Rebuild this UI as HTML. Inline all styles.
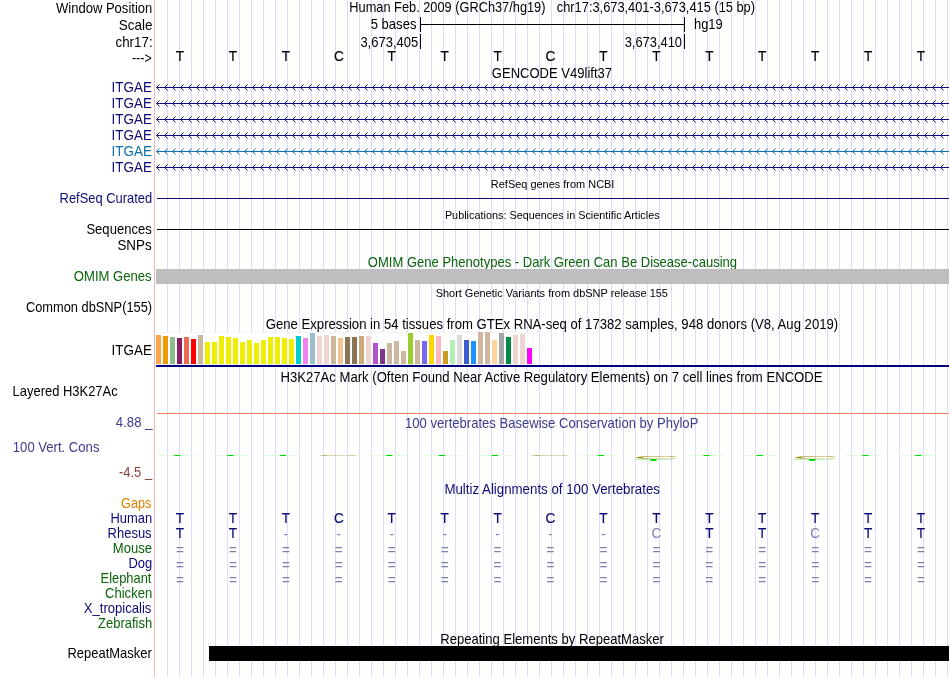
<!DOCTYPE html>
<html lang="en"><head><meta charset="utf-8"><title>UCSC Genome Browser - hg19 chr17:3,673,401-3,673,415</title>
<style>html,body{margin:0;padding:0;background:#fff}svg{display:block}</style></head>
<body>
<svg id="hgTracks" width="950" height="677" viewBox="0 0 950 677" font-family='"Liberation Sans", sans-serif'>
<title>UCSC Genome Browser on Human Feb. 2009 (GRCh37/hg19) chr17:3,673,401-3,673,415</title>
<rect x="0" y="0" width="950" height="677" fill="#fff"/>
<g id="guidelines" shape-rendering="crispEdges">
<rect x="167" y="0" width="1" height="677" fill="#dcdcff"/>
<rect x="179" y="0" width="1" height="677" fill="#dcdcff"/>
<rect x="191" y="0" width="1" height="677" fill="#dcdcff"/>
<rect x="203" y="0" width="1" height="677" fill="#dcdcff"/>
<rect x="215" y="0" width="1" height="677" fill="#dcdcff"/>
<rect x="227" y="0" width="1" height="677" fill="#dcdcff"/>
<rect x="239" y="0" width="1" height="677" fill="#dcdcff"/>
<rect x="251" y="0" width="1" height="677" fill="#dcdcff"/>
<rect x="263" y="0" width="1" height="677" fill="#dcdcff"/>
<rect x="275" y="0" width="1" height="677" fill="#dcdcff"/>
<rect x="287" y="0" width="1" height="677" fill="#dcdcff"/>
<rect x="299" y="0" width="1" height="677" fill="#dcdcff"/>
<rect x="311" y="0" width="1" height="677" fill="#dcdcff"/>
<rect x="323" y="0" width="1" height="677" fill="#dcdcff"/>
<rect x="335" y="0" width="1" height="677" fill="#dcdcff"/>
<rect x="347" y="0" width="1" height="677" fill="#dcdcff"/>
<rect x="359" y="0" width="1" height="677" fill="#dcdcff"/>
<rect x="371" y="0" width="1" height="677" fill="#dcdcff"/>
<rect x="383" y="0" width="1" height="677" fill="#dcdcff"/>
<rect x="395" y="0" width="1" height="677" fill="#dcdcff"/>
<rect x="407" y="0" width="1" height="677" fill="#dcdcff"/>
<rect x="419" y="0" width="1" height="677" fill="#dcdcff"/>
<rect x="431" y="0" width="1" height="677" fill="#dcdcff"/>
<rect x="443" y="0" width="1" height="677" fill="#dcdcff"/>
<rect x="455" y="0" width="1" height="677" fill="#dcdcff"/>
<rect x="467" y="0" width="1" height="677" fill="#dcdcff"/>
<rect x="479" y="0" width="1" height="677" fill="#dcdcff"/>
<rect x="491" y="0" width="1" height="677" fill="#dcdcff"/>
<rect x="503" y="0" width="1" height="677" fill="#dcdcff"/>
<rect x="515" y="0" width="1" height="677" fill="#dcdcff"/>
<rect x="527" y="0" width="1" height="677" fill="#dcdcff"/>
<rect x="539" y="0" width="1" height="677" fill="#dcdcff"/>
<rect x="551" y="0" width="1" height="677" fill="#dcdcff"/>
<rect x="563" y="0" width="1" height="677" fill="#dcdcff"/>
<rect x="575" y="0" width="1" height="677" fill="#dcdcff"/>
<rect x="587" y="0" width="1" height="677" fill="#dcdcff"/>
<rect x="599" y="0" width="1" height="677" fill="#dcdcff"/>
<rect x="611" y="0" width="1" height="677" fill="#dcdcff"/>
<rect x="623" y="0" width="1" height="677" fill="#dcdcff"/>
<rect x="635" y="0" width="1" height="677" fill="#dcdcff"/>
<rect x="647" y="0" width="1" height="677" fill="#dcdcff"/>
<rect x="659" y="0" width="1" height="677" fill="#dcdcff"/>
<rect x="671" y="0" width="1" height="677" fill="#dcdcff"/>
<rect x="683" y="0" width="1" height="677" fill="#dcdcff"/>
<rect x="695" y="0" width="1" height="677" fill="#dcdcff"/>
<rect x="707" y="0" width="1" height="677" fill="#dcdcff"/>
<rect x="719" y="0" width="1" height="677" fill="#dcdcff"/>
<rect x="731" y="0" width="1" height="677" fill="#dcdcff"/>
<rect x="743" y="0" width="1" height="677" fill="#dcdcff"/>
<rect x="755" y="0" width="1" height="677" fill="#dcdcff"/>
<rect x="767" y="0" width="1" height="677" fill="#dcdcff"/>
<rect x="779" y="0" width="1" height="677" fill="#dcdcff"/>
<rect x="791" y="0" width="1" height="677" fill="#dcdcff"/>
<rect x="803" y="0" width="1" height="677" fill="#dcdcff"/>
<rect x="815" y="0" width="1" height="677" fill="#dcdcff"/>
<rect x="827" y="0" width="1" height="677" fill="#dcdcff"/>
<rect x="839" y="0" width="1" height="677" fill="#dcdcff"/>
<rect x="851" y="0" width="1" height="677" fill="#dcdcff"/>
<rect x="863" y="0" width="1" height="677" fill="#dcdcff"/>
<rect x="875" y="0" width="1" height="677" fill="#dcdcff"/>
<rect x="887" y="0" width="1" height="677" fill="#dcdcff"/>
<rect x="899" y="0" width="1" height="677" fill="#dcdcff"/>
<rect x="911" y="0" width="1" height="677" fill="#dcdcff"/>
<rect x="923" y="0" width="1" height="677" fill="#dcdcff"/>
<rect x="935" y="0" width="1" height="677" fill="#dcdcff"/>
<rect x="947" y="0" width="1" height="677" fill="#dcdcff"/>
<rect x="154" y="0" width="1" height="677" fill="#ffb4b4"/>
</g>
<g id="track-ruler">
<g shape-rendering="crispEdges">
<rect x="420" y="24" width="265" height="1" fill="#000"/>
<rect x="420" y="17" width="1" height="15" fill="#000"/>
<rect x="684" y="17" width="1" height="15" fill="#000"/>
<rect x="420" y="34" width="1" height="15" fill="#000"/>
<rect x="684" y="34" width="1" height="15" fill="#000"/>
</g>
<text x="56.00" y="12.5" font-size="14.2" fill="#000" textLength="96.28" lengthAdjust="spacingAndGlyphs">Window Position</text>
<text x="118.75" y="29.8" font-size="14.2" fill="#000" textLength="33.71" lengthAdjust="spacingAndGlyphs">Scale</text>
<text x="115.46" y="47.2" font-size="14.2" fill="#000" textLength="37.15" lengthAdjust="spacingAndGlyphs">chr17:</text>
<text x="131.90" y="62.7" font-size="14.2" fill="#000" textLength="19.86" lengthAdjust="spacingAndGlyphs">---&gt;</text>
<text x="349.36" y="12.2" font-size="14.2" fill="#000" textLength="196.13" lengthAdjust="spacingAndGlyphs">Human Feb. 2009 (GRCh37/hg19)</text>
<text x="556.81" y="12.2" font-size="14.2" fill="#000" textLength="198.24" lengthAdjust="spacingAndGlyphs">chr17:3,673,401-3,673,415 (15 bp)</text>
<text x="370.74" y="29" font-size="14.2" fill="#000" textLength="45.69" lengthAdjust="spacingAndGlyphs">5 bases</text>
<text x="693.98" y="29" font-size="14.2" fill="#000" textLength="28.77" lengthAdjust="spacingAndGlyphs">hg19</text>
<text x="360.39" y="46.6" font-size="14.2" fill="#000" textLength="57.80" lengthAdjust="spacingAndGlyphs">3,673,405</text>
<text x="624.67" y="46.6" font-size="14.2" fill="#000" textLength="57.37" lengthAdjust="spacingAndGlyphs">3,673,410</text>
<text transform="translate(180.0,61) scale(0.96,1)" font-size="14.2" fill="#000" stroke="#000" stroke-width="0.18" text-anchor="middle">T</text>
<text transform="translate(232.93,61) scale(0.96,1)" font-size="14.2" fill="#000" stroke="#000" stroke-width="0.18" text-anchor="middle">T</text>
<text transform="translate(285.86,61) scale(0.96,1)" font-size="14.2" fill="#000" stroke="#000" stroke-width="0.18" text-anchor="middle">T</text>
<text transform="translate(338.79,61) scale(0.96,1)" font-size="14.2" fill="#000" stroke="#000" stroke-width="0.18" text-anchor="middle">C</text>
<text transform="translate(391.72,61) scale(0.96,1)" font-size="14.2" fill="#000" stroke="#000" stroke-width="0.18" text-anchor="middle">T</text>
<text transform="translate(444.65,61) scale(0.96,1)" font-size="14.2" fill="#000" stroke="#000" stroke-width="0.18" text-anchor="middle">T</text>
<text transform="translate(497.58,61) scale(0.96,1)" font-size="14.2" fill="#000" stroke="#000" stroke-width="0.18" text-anchor="middle">T</text>
<text transform="translate(550.51,61) scale(0.96,1)" font-size="14.2" fill="#000" stroke="#000" stroke-width="0.18" text-anchor="middle">C</text>
<text transform="translate(603.44,61) scale(0.96,1)" font-size="14.2" fill="#000" stroke="#000" stroke-width="0.18" text-anchor="middle">T</text>
<text transform="translate(656.37,61) scale(0.96,1)" font-size="14.2" fill="#000" stroke="#000" stroke-width="0.18" text-anchor="middle">T</text>
<text transform="translate(709.3,61) scale(0.96,1)" font-size="14.2" fill="#000" stroke="#000" stroke-width="0.18" text-anchor="middle">T</text>
<text transform="translate(762.23,61) scale(0.96,1)" font-size="14.2" fill="#000" stroke="#000" stroke-width="0.18" text-anchor="middle">T</text>
<text transform="translate(815.16,61) scale(0.96,1)" font-size="14.2" fill="#000" stroke="#000" stroke-width="0.18" text-anchor="middle">T</text>
<text transform="translate(868.09,61) scale(0.96,1)" font-size="14.2" fill="#000" stroke="#000" stroke-width="0.18" text-anchor="middle">T</text>
<text transform="translate(921.02,61) scale(0.96,1)" font-size="14.2" fill="#000" stroke="#000" stroke-width="0.18" text-anchor="middle">T</text>
</g>
<g id="track-gencode">
<text x="491.87" y="78" font-size="14.2" fill="#000" textLength="120.16" lengthAdjust="spacingAndGlyphs">GENCODE V49lift37</text>
<g class="transcript">
<text x="111.60" y="91.6" font-size="14.2" fill="#0c0c78" textLength="40.25" lengthAdjust="spacingAndGlyphs">ITGAE</text>
<rect x="157" y="87" width="792" height="1" fill="#0c0c78" shape-rendering="crispEdges"/>
<path d="M159.5 84.5L156.5 87.5L159.5 90.5M167.5 84.5L164.5 87.5L167.5 90.5M175.5 84.5L172.5 87.5L175.5 90.5M183.5 84.5L180.5 87.5L183.5 90.5M191.5 84.5L188.5 87.5L191.5 90.5M199.5 84.5L196.5 87.5L199.5 90.5M207.5 84.5L204.5 87.5L207.5 90.5M215.5 84.5L212.5 87.5L215.5 90.5M223.5 84.5L220.5 87.5L223.5 90.5M231.5 84.5L228.5 87.5L231.5 90.5M239.5 84.5L236.5 87.5L239.5 90.5M247.5 84.5L244.5 87.5L247.5 90.5M255.5 84.5L252.5 87.5L255.5 90.5M263.5 84.5L260.5 87.5L263.5 90.5M271.5 84.5L268.5 87.5L271.5 90.5M279.5 84.5L276.5 87.5L279.5 90.5M287.5 84.5L284.5 87.5L287.5 90.5M295.5 84.5L292.5 87.5L295.5 90.5M303.5 84.5L300.5 87.5L303.5 90.5M311.5 84.5L308.5 87.5L311.5 90.5M319.5 84.5L316.5 87.5L319.5 90.5M327.5 84.5L324.5 87.5L327.5 90.5M335.5 84.5L332.5 87.5L335.5 90.5M343.5 84.5L340.5 87.5L343.5 90.5M351.5 84.5L348.5 87.5L351.5 90.5M359.5 84.5L356.5 87.5L359.5 90.5M367.5 84.5L364.5 87.5L367.5 90.5M375.5 84.5L372.5 87.5L375.5 90.5M383.5 84.5L380.5 87.5L383.5 90.5M391.5 84.5L388.5 87.5L391.5 90.5M399.5 84.5L396.5 87.5L399.5 90.5M407.5 84.5L404.5 87.5L407.5 90.5M415.5 84.5L412.5 87.5L415.5 90.5M423.5 84.5L420.5 87.5L423.5 90.5M431.5 84.5L428.5 87.5L431.5 90.5M439.5 84.5L436.5 87.5L439.5 90.5M447.5 84.5L444.5 87.5L447.5 90.5M455.5 84.5L452.5 87.5L455.5 90.5M463.5 84.5L460.5 87.5L463.5 90.5M471.5 84.5L468.5 87.5L471.5 90.5M479.5 84.5L476.5 87.5L479.5 90.5M487.5 84.5L484.5 87.5L487.5 90.5M495.5 84.5L492.5 87.5L495.5 90.5M503.5 84.5L500.5 87.5L503.5 90.5M511.5 84.5L508.5 87.5L511.5 90.5M519.5 84.5L516.5 87.5L519.5 90.5M527.5 84.5L524.5 87.5L527.5 90.5M535.5 84.5L532.5 87.5L535.5 90.5M543.5 84.5L540.5 87.5L543.5 90.5M551.5 84.5L548.5 87.5L551.5 90.5M559.5 84.5L556.5 87.5L559.5 90.5M567.5 84.5L564.5 87.5L567.5 90.5M575.5 84.5L572.5 87.5L575.5 90.5M583.5 84.5L580.5 87.5L583.5 90.5M591.5 84.5L588.5 87.5L591.5 90.5M599.5 84.5L596.5 87.5L599.5 90.5M607.5 84.5L604.5 87.5L607.5 90.5M615.5 84.5L612.5 87.5L615.5 90.5M623.5 84.5L620.5 87.5L623.5 90.5M631.5 84.5L628.5 87.5L631.5 90.5M639.5 84.5L636.5 87.5L639.5 90.5M647.5 84.5L644.5 87.5L647.5 90.5M655.5 84.5L652.5 87.5L655.5 90.5M663.5 84.5L660.5 87.5L663.5 90.5M671.5 84.5L668.5 87.5L671.5 90.5M679.5 84.5L676.5 87.5L679.5 90.5M687.5 84.5L684.5 87.5L687.5 90.5M695.5 84.5L692.5 87.5L695.5 90.5M703.5 84.5L700.5 87.5L703.5 90.5M711.5 84.5L708.5 87.5L711.5 90.5M719.5 84.5L716.5 87.5L719.5 90.5M727.5 84.5L724.5 87.5L727.5 90.5M735.5 84.5L732.5 87.5L735.5 90.5M743.5 84.5L740.5 87.5L743.5 90.5M751.5 84.5L748.5 87.5L751.5 90.5M759.5 84.5L756.5 87.5L759.5 90.5M767.5 84.5L764.5 87.5L767.5 90.5M775.5 84.5L772.5 87.5L775.5 90.5M783.5 84.5L780.5 87.5L783.5 90.5M791.5 84.5L788.5 87.5L791.5 90.5M799.5 84.5L796.5 87.5L799.5 90.5M807.5 84.5L804.5 87.5L807.5 90.5M815.5 84.5L812.5 87.5L815.5 90.5M823.5 84.5L820.5 87.5L823.5 90.5M831.5 84.5L828.5 87.5L831.5 90.5M839.5 84.5L836.5 87.5L839.5 90.5M847.5 84.5L844.5 87.5L847.5 90.5M855.5 84.5L852.5 87.5L855.5 90.5M863.5 84.5L860.5 87.5L863.5 90.5M871.5 84.5L868.5 87.5L871.5 90.5M879.5 84.5L876.5 87.5L879.5 90.5M887.5 84.5L884.5 87.5L887.5 90.5M895.5 84.5L892.5 87.5L895.5 90.5M903.5 84.5L900.5 87.5L903.5 90.5M911.5 84.5L908.5 87.5L911.5 90.5M919.5 84.5L916.5 87.5L919.5 90.5M927.5 84.5L924.5 87.5L927.5 90.5M935.5 84.5L932.5 87.5L935.5 90.5M943.5 84.5L940.5 87.5L943.5 90.5" stroke="#0c0c78" stroke-width="1" fill="none"/>
</g>
<g class="transcript">
<text x="111.60" y="107.6" font-size="14.2" fill="#0c0c78" textLength="40.25" lengthAdjust="spacingAndGlyphs">ITGAE</text>
<rect x="157" y="103" width="792" height="1" fill="#0c0c78" shape-rendering="crispEdges"/>
<path d="M159.5 100.5L156.5 103.5L159.5 106.5M167.5 100.5L164.5 103.5L167.5 106.5M175.5 100.5L172.5 103.5L175.5 106.5M183.5 100.5L180.5 103.5L183.5 106.5M191.5 100.5L188.5 103.5L191.5 106.5M199.5 100.5L196.5 103.5L199.5 106.5M207.5 100.5L204.5 103.5L207.5 106.5M215.5 100.5L212.5 103.5L215.5 106.5M223.5 100.5L220.5 103.5L223.5 106.5M231.5 100.5L228.5 103.5L231.5 106.5M239.5 100.5L236.5 103.5L239.5 106.5M247.5 100.5L244.5 103.5L247.5 106.5M255.5 100.5L252.5 103.5L255.5 106.5M263.5 100.5L260.5 103.5L263.5 106.5M271.5 100.5L268.5 103.5L271.5 106.5M279.5 100.5L276.5 103.5L279.5 106.5M287.5 100.5L284.5 103.5L287.5 106.5M295.5 100.5L292.5 103.5L295.5 106.5M303.5 100.5L300.5 103.5L303.5 106.5M311.5 100.5L308.5 103.5L311.5 106.5M319.5 100.5L316.5 103.5L319.5 106.5M327.5 100.5L324.5 103.5L327.5 106.5M335.5 100.5L332.5 103.5L335.5 106.5M343.5 100.5L340.5 103.5L343.5 106.5M351.5 100.5L348.5 103.5L351.5 106.5M359.5 100.5L356.5 103.5L359.5 106.5M367.5 100.5L364.5 103.5L367.5 106.5M375.5 100.5L372.5 103.5L375.5 106.5M383.5 100.5L380.5 103.5L383.5 106.5M391.5 100.5L388.5 103.5L391.5 106.5M399.5 100.5L396.5 103.5L399.5 106.5M407.5 100.5L404.5 103.5L407.5 106.5M415.5 100.5L412.5 103.5L415.5 106.5M423.5 100.5L420.5 103.5L423.5 106.5M431.5 100.5L428.5 103.5L431.5 106.5M439.5 100.5L436.5 103.5L439.5 106.5M447.5 100.5L444.5 103.5L447.5 106.5M455.5 100.5L452.5 103.5L455.5 106.5M463.5 100.5L460.5 103.5L463.5 106.5M471.5 100.5L468.5 103.5L471.5 106.5M479.5 100.5L476.5 103.5L479.5 106.5M487.5 100.5L484.5 103.5L487.5 106.5M495.5 100.5L492.5 103.5L495.5 106.5M503.5 100.5L500.5 103.5L503.5 106.5M511.5 100.5L508.5 103.5L511.5 106.5M519.5 100.5L516.5 103.5L519.5 106.5M527.5 100.5L524.5 103.5L527.5 106.5M535.5 100.5L532.5 103.5L535.5 106.5M543.5 100.5L540.5 103.5L543.5 106.5M551.5 100.5L548.5 103.5L551.5 106.5M559.5 100.5L556.5 103.5L559.5 106.5M567.5 100.5L564.5 103.5L567.5 106.5M575.5 100.5L572.5 103.5L575.5 106.5M583.5 100.5L580.5 103.5L583.5 106.5M591.5 100.5L588.5 103.5L591.5 106.5M599.5 100.5L596.5 103.5L599.5 106.5M607.5 100.5L604.5 103.5L607.5 106.5M615.5 100.5L612.5 103.5L615.5 106.5M623.5 100.5L620.5 103.5L623.5 106.5M631.5 100.5L628.5 103.5L631.5 106.5M639.5 100.5L636.5 103.5L639.5 106.5M647.5 100.5L644.5 103.5L647.5 106.5M655.5 100.5L652.5 103.5L655.5 106.5M663.5 100.5L660.5 103.5L663.5 106.5M671.5 100.5L668.5 103.5L671.5 106.5M679.5 100.5L676.5 103.5L679.5 106.5M687.5 100.5L684.5 103.5L687.5 106.5M695.5 100.5L692.5 103.5L695.5 106.5M703.5 100.5L700.5 103.5L703.5 106.5M711.5 100.5L708.5 103.5L711.5 106.5M719.5 100.5L716.5 103.5L719.5 106.5M727.5 100.5L724.5 103.5L727.5 106.5M735.5 100.5L732.5 103.5L735.5 106.5M743.5 100.5L740.5 103.5L743.5 106.5M751.5 100.5L748.5 103.5L751.5 106.5M759.5 100.5L756.5 103.5L759.5 106.5M767.5 100.5L764.5 103.5L767.5 106.5M775.5 100.5L772.5 103.5L775.5 106.5M783.5 100.5L780.5 103.5L783.5 106.5M791.5 100.5L788.5 103.5L791.5 106.5M799.5 100.5L796.5 103.5L799.5 106.5M807.5 100.5L804.5 103.5L807.5 106.5M815.5 100.5L812.5 103.5L815.5 106.5M823.5 100.5L820.5 103.5L823.5 106.5M831.5 100.5L828.5 103.5L831.5 106.5M839.5 100.5L836.5 103.5L839.5 106.5M847.5 100.5L844.5 103.5L847.5 106.5M855.5 100.5L852.5 103.5L855.5 106.5M863.5 100.5L860.5 103.5L863.5 106.5M871.5 100.5L868.5 103.5L871.5 106.5M879.5 100.5L876.5 103.5L879.5 106.5M887.5 100.5L884.5 103.5L887.5 106.5M895.5 100.5L892.5 103.5L895.5 106.5M903.5 100.5L900.5 103.5L903.5 106.5M911.5 100.5L908.5 103.5L911.5 106.5M919.5 100.5L916.5 103.5L919.5 106.5M927.5 100.5L924.5 103.5L927.5 106.5M935.5 100.5L932.5 103.5L935.5 106.5M943.5 100.5L940.5 103.5L943.5 106.5" stroke="#0c0c78" stroke-width="1" fill="none"/>
</g>
<g class="transcript">
<text x="111.60" y="123.6" font-size="14.2" fill="#0c0c78" textLength="40.25" lengthAdjust="spacingAndGlyphs">ITGAE</text>
<rect x="157" y="119" width="792" height="1" fill="#0c0c78" shape-rendering="crispEdges"/>
<path d="M159.5 116.5L156.5 119.5L159.5 122.5M167.5 116.5L164.5 119.5L167.5 122.5M175.5 116.5L172.5 119.5L175.5 122.5M183.5 116.5L180.5 119.5L183.5 122.5M191.5 116.5L188.5 119.5L191.5 122.5M199.5 116.5L196.5 119.5L199.5 122.5M207.5 116.5L204.5 119.5L207.5 122.5M215.5 116.5L212.5 119.5L215.5 122.5M223.5 116.5L220.5 119.5L223.5 122.5M231.5 116.5L228.5 119.5L231.5 122.5M239.5 116.5L236.5 119.5L239.5 122.5M247.5 116.5L244.5 119.5L247.5 122.5M255.5 116.5L252.5 119.5L255.5 122.5M263.5 116.5L260.5 119.5L263.5 122.5M271.5 116.5L268.5 119.5L271.5 122.5M279.5 116.5L276.5 119.5L279.5 122.5M287.5 116.5L284.5 119.5L287.5 122.5M295.5 116.5L292.5 119.5L295.5 122.5M303.5 116.5L300.5 119.5L303.5 122.5M311.5 116.5L308.5 119.5L311.5 122.5M319.5 116.5L316.5 119.5L319.5 122.5M327.5 116.5L324.5 119.5L327.5 122.5M335.5 116.5L332.5 119.5L335.5 122.5M343.5 116.5L340.5 119.5L343.5 122.5M351.5 116.5L348.5 119.5L351.5 122.5M359.5 116.5L356.5 119.5L359.5 122.5M367.5 116.5L364.5 119.5L367.5 122.5M375.5 116.5L372.5 119.5L375.5 122.5M383.5 116.5L380.5 119.5L383.5 122.5M391.5 116.5L388.5 119.5L391.5 122.5M399.5 116.5L396.5 119.5L399.5 122.5M407.5 116.5L404.5 119.5L407.5 122.5M415.5 116.5L412.5 119.5L415.5 122.5M423.5 116.5L420.5 119.5L423.5 122.5M431.5 116.5L428.5 119.5L431.5 122.5M439.5 116.5L436.5 119.5L439.5 122.5M447.5 116.5L444.5 119.5L447.5 122.5M455.5 116.5L452.5 119.5L455.5 122.5M463.5 116.5L460.5 119.5L463.5 122.5M471.5 116.5L468.5 119.5L471.5 122.5M479.5 116.5L476.5 119.5L479.5 122.5M487.5 116.5L484.5 119.5L487.5 122.5M495.5 116.5L492.5 119.5L495.5 122.5M503.5 116.5L500.5 119.5L503.5 122.5M511.5 116.5L508.5 119.5L511.5 122.5M519.5 116.5L516.5 119.5L519.5 122.5M527.5 116.5L524.5 119.5L527.5 122.5M535.5 116.5L532.5 119.5L535.5 122.5M543.5 116.5L540.5 119.5L543.5 122.5M551.5 116.5L548.5 119.5L551.5 122.5M559.5 116.5L556.5 119.5L559.5 122.5M567.5 116.5L564.5 119.5L567.5 122.5M575.5 116.5L572.5 119.5L575.5 122.5M583.5 116.5L580.5 119.5L583.5 122.5M591.5 116.5L588.5 119.5L591.5 122.5M599.5 116.5L596.5 119.5L599.5 122.5M607.5 116.5L604.5 119.5L607.5 122.5M615.5 116.5L612.5 119.5L615.5 122.5M623.5 116.5L620.5 119.5L623.5 122.5M631.5 116.5L628.5 119.5L631.5 122.5M639.5 116.5L636.5 119.5L639.5 122.5M647.5 116.5L644.5 119.5L647.5 122.5M655.5 116.5L652.5 119.5L655.5 122.5M663.5 116.5L660.5 119.5L663.5 122.5M671.5 116.5L668.5 119.5L671.5 122.5M679.5 116.5L676.5 119.5L679.5 122.5M687.5 116.5L684.5 119.5L687.5 122.5M695.5 116.5L692.5 119.5L695.5 122.5M703.5 116.5L700.5 119.5L703.5 122.5M711.5 116.5L708.5 119.5L711.5 122.5M719.5 116.5L716.5 119.5L719.5 122.5M727.5 116.5L724.5 119.5L727.5 122.5M735.5 116.5L732.5 119.5L735.5 122.5M743.5 116.5L740.5 119.5L743.5 122.5M751.5 116.5L748.5 119.5L751.5 122.5M759.5 116.5L756.5 119.5L759.5 122.5M767.5 116.5L764.5 119.5L767.5 122.5M775.5 116.5L772.5 119.5L775.5 122.5M783.5 116.5L780.5 119.5L783.5 122.5M791.5 116.5L788.5 119.5L791.5 122.5M799.5 116.5L796.5 119.5L799.5 122.5M807.5 116.5L804.5 119.5L807.5 122.5M815.5 116.5L812.5 119.5L815.5 122.5M823.5 116.5L820.5 119.5L823.5 122.5M831.5 116.5L828.5 119.5L831.5 122.5M839.5 116.5L836.5 119.5L839.5 122.5M847.5 116.5L844.5 119.5L847.5 122.5M855.5 116.5L852.5 119.5L855.5 122.5M863.5 116.5L860.5 119.5L863.5 122.5M871.5 116.5L868.5 119.5L871.5 122.5M879.5 116.5L876.5 119.5L879.5 122.5M887.5 116.5L884.5 119.5L887.5 122.5M895.5 116.5L892.5 119.5L895.5 122.5M903.5 116.5L900.5 119.5L903.5 122.5M911.5 116.5L908.5 119.5L911.5 122.5M919.5 116.5L916.5 119.5L919.5 122.5M927.5 116.5L924.5 119.5L927.5 122.5M935.5 116.5L932.5 119.5L935.5 122.5M943.5 116.5L940.5 119.5L943.5 122.5" stroke="#0c0c78" stroke-width="1" fill="none"/>
</g>
<g class="transcript">
<text x="111.60" y="139.6" font-size="14.2" fill="#0c0c78" textLength="40.25" lengthAdjust="spacingAndGlyphs">ITGAE</text>
<rect x="157" y="135" width="792" height="1" fill="#0c0c78" shape-rendering="crispEdges"/>
<path d="M159.5 132.5L156.5 135.5L159.5 138.5M167.5 132.5L164.5 135.5L167.5 138.5M175.5 132.5L172.5 135.5L175.5 138.5M183.5 132.5L180.5 135.5L183.5 138.5M191.5 132.5L188.5 135.5L191.5 138.5M199.5 132.5L196.5 135.5L199.5 138.5M207.5 132.5L204.5 135.5L207.5 138.5M215.5 132.5L212.5 135.5L215.5 138.5M223.5 132.5L220.5 135.5L223.5 138.5M231.5 132.5L228.5 135.5L231.5 138.5M239.5 132.5L236.5 135.5L239.5 138.5M247.5 132.5L244.5 135.5L247.5 138.5M255.5 132.5L252.5 135.5L255.5 138.5M263.5 132.5L260.5 135.5L263.5 138.5M271.5 132.5L268.5 135.5L271.5 138.5M279.5 132.5L276.5 135.5L279.5 138.5M287.5 132.5L284.5 135.5L287.5 138.5M295.5 132.5L292.5 135.5L295.5 138.5M303.5 132.5L300.5 135.5L303.5 138.5M311.5 132.5L308.5 135.5L311.5 138.5M319.5 132.5L316.5 135.5L319.5 138.5M327.5 132.5L324.5 135.5L327.5 138.5M335.5 132.5L332.5 135.5L335.5 138.5M343.5 132.5L340.5 135.5L343.5 138.5M351.5 132.5L348.5 135.5L351.5 138.5M359.5 132.5L356.5 135.5L359.5 138.5M367.5 132.5L364.5 135.5L367.5 138.5M375.5 132.5L372.5 135.5L375.5 138.5M383.5 132.5L380.5 135.5L383.5 138.5M391.5 132.5L388.5 135.5L391.5 138.5M399.5 132.5L396.5 135.5L399.5 138.5M407.5 132.5L404.5 135.5L407.5 138.5M415.5 132.5L412.5 135.5L415.5 138.5M423.5 132.5L420.5 135.5L423.5 138.5M431.5 132.5L428.5 135.5L431.5 138.5M439.5 132.5L436.5 135.5L439.5 138.5M447.5 132.5L444.5 135.5L447.5 138.5M455.5 132.5L452.5 135.5L455.5 138.5M463.5 132.5L460.5 135.5L463.5 138.5M471.5 132.5L468.5 135.5L471.5 138.5M479.5 132.5L476.5 135.5L479.5 138.5M487.5 132.5L484.5 135.5L487.5 138.5M495.5 132.5L492.5 135.5L495.5 138.5M503.5 132.5L500.5 135.5L503.5 138.5M511.5 132.5L508.5 135.5L511.5 138.5M519.5 132.5L516.5 135.5L519.5 138.5M527.5 132.5L524.5 135.5L527.5 138.5M535.5 132.5L532.5 135.5L535.5 138.5M543.5 132.5L540.5 135.5L543.5 138.5M551.5 132.5L548.5 135.5L551.5 138.5M559.5 132.5L556.5 135.5L559.5 138.5M567.5 132.5L564.5 135.5L567.5 138.5M575.5 132.5L572.5 135.5L575.5 138.5M583.5 132.5L580.5 135.5L583.5 138.5M591.5 132.5L588.5 135.5L591.5 138.5M599.5 132.5L596.5 135.5L599.5 138.5M607.5 132.5L604.5 135.5L607.5 138.5M615.5 132.5L612.5 135.5L615.5 138.5M623.5 132.5L620.5 135.5L623.5 138.5M631.5 132.5L628.5 135.5L631.5 138.5M639.5 132.5L636.5 135.5L639.5 138.5M647.5 132.5L644.5 135.5L647.5 138.5M655.5 132.5L652.5 135.5L655.5 138.5M663.5 132.5L660.5 135.5L663.5 138.5M671.5 132.5L668.5 135.5L671.5 138.5M679.5 132.5L676.5 135.5L679.5 138.5M687.5 132.5L684.5 135.5L687.5 138.5M695.5 132.5L692.5 135.5L695.5 138.5M703.5 132.5L700.5 135.5L703.5 138.5M711.5 132.5L708.5 135.5L711.5 138.5M719.5 132.5L716.5 135.5L719.5 138.5M727.5 132.5L724.5 135.5L727.5 138.5M735.5 132.5L732.5 135.5L735.5 138.5M743.5 132.5L740.5 135.5L743.5 138.5M751.5 132.5L748.5 135.5L751.5 138.5M759.5 132.5L756.5 135.5L759.5 138.5M767.5 132.5L764.5 135.5L767.5 138.5M775.5 132.5L772.5 135.5L775.5 138.5M783.5 132.5L780.5 135.5L783.5 138.5M791.5 132.5L788.5 135.5L791.5 138.5M799.5 132.5L796.5 135.5L799.5 138.5M807.5 132.5L804.5 135.5L807.5 138.5M815.5 132.5L812.5 135.5L815.5 138.5M823.5 132.5L820.5 135.5L823.5 138.5M831.5 132.5L828.5 135.5L831.5 138.5M839.5 132.5L836.5 135.5L839.5 138.5M847.5 132.5L844.5 135.5L847.5 138.5M855.5 132.5L852.5 135.5L855.5 138.5M863.5 132.5L860.5 135.5L863.5 138.5M871.5 132.5L868.5 135.5L871.5 138.5M879.5 132.5L876.5 135.5L879.5 138.5M887.5 132.5L884.5 135.5L887.5 138.5M895.5 132.5L892.5 135.5L895.5 138.5M903.5 132.5L900.5 135.5L903.5 138.5M911.5 132.5L908.5 135.5L911.5 138.5M919.5 132.5L916.5 135.5L919.5 138.5M927.5 132.5L924.5 135.5L927.5 138.5M935.5 132.5L932.5 135.5L935.5 138.5M943.5 132.5L940.5 135.5L943.5 138.5" stroke="#0c0c78" stroke-width="1" fill="none"/>
</g>
<g class="transcript">
<text x="111.60" y="155.6" font-size="14.2" fill="#0b6fae" textLength="40.25" lengthAdjust="spacingAndGlyphs">ITGAE</text>
<rect x="157" y="151" width="792" height="1" fill="#0b6fae" shape-rendering="crispEdges"/>
<path d="M159.5 148.5L156.5 151.5L159.5 154.5M167.5 148.5L164.5 151.5L167.5 154.5M175.5 148.5L172.5 151.5L175.5 154.5M183.5 148.5L180.5 151.5L183.5 154.5M191.5 148.5L188.5 151.5L191.5 154.5M199.5 148.5L196.5 151.5L199.5 154.5M207.5 148.5L204.5 151.5L207.5 154.5M215.5 148.5L212.5 151.5L215.5 154.5M223.5 148.5L220.5 151.5L223.5 154.5M231.5 148.5L228.5 151.5L231.5 154.5M239.5 148.5L236.5 151.5L239.5 154.5M247.5 148.5L244.5 151.5L247.5 154.5M255.5 148.5L252.5 151.5L255.5 154.5M263.5 148.5L260.5 151.5L263.5 154.5M271.5 148.5L268.5 151.5L271.5 154.5M279.5 148.5L276.5 151.5L279.5 154.5M287.5 148.5L284.5 151.5L287.5 154.5M295.5 148.5L292.5 151.5L295.5 154.5M303.5 148.5L300.5 151.5L303.5 154.5M311.5 148.5L308.5 151.5L311.5 154.5M319.5 148.5L316.5 151.5L319.5 154.5M327.5 148.5L324.5 151.5L327.5 154.5M335.5 148.5L332.5 151.5L335.5 154.5M343.5 148.5L340.5 151.5L343.5 154.5M351.5 148.5L348.5 151.5L351.5 154.5M359.5 148.5L356.5 151.5L359.5 154.5M367.5 148.5L364.5 151.5L367.5 154.5M375.5 148.5L372.5 151.5L375.5 154.5M383.5 148.5L380.5 151.5L383.5 154.5M391.5 148.5L388.5 151.5L391.5 154.5M399.5 148.5L396.5 151.5L399.5 154.5M407.5 148.5L404.5 151.5L407.5 154.5M415.5 148.5L412.5 151.5L415.5 154.5M423.5 148.5L420.5 151.5L423.5 154.5M431.5 148.5L428.5 151.5L431.5 154.5M439.5 148.5L436.5 151.5L439.5 154.5M447.5 148.5L444.5 151.5L447.5 154.5M455.5 148.5L452.5 151.5L455.5 154.5M463.5 148.5L460.5 151.5L463.5 154.5M471.5 148.5L468.5 151.5L471.5 154.5M479.5 148.5L476.5 151.5L479.5 154.5M487.5 148.5L484.5 151.5L487.5 154.5M495.5 148.5L492.5 151.5L495.5 154.5M503.5 148.5L500.5 151.5L503.5 154.5M511.5 148.5L508.5 151.5L511.5 154.5M519.5 148.5L516.5 151.5L519.5 154.5M527.5 148.5L524.5 151.5L527.5 154.5M535.5 148.5L532.5 151.5L535.5 154.5M543.5 148.5L540.5 151.5L543.5 154.5M551.5 148.5L548.5 151.5L551.5 154.5M559.5 148.5L556.5 151.5L559.5 154.5M567.5 148.5L564.5 151.5L567.5 154.5M575.5 148.5L572.5 151.5L575.5 154.5M583.5 148.5L580.5 151.5L583.5 154.5M591.5 148.5L588.5 151.5L591.5 154.5M599.5 148.5L596.5 151.5L599.5 154.5M607.5 148.5L604.5 151.5L607.5 154.5M615.5 148.5L612.5 151.5L615.5 154.5M623.5 148.5L620.5 151.5L623.5 154.5M631.5 148.5L628.5 151.5L631.5 154.5M639.5 148.5L636.5 151.5L639.5 154.5M647.5 148.5L644.5 151.5L647.5 154.5M655.5 148.5L652.5 151.5L655.5 154.5M663.5 148.5L660.5 151.5L663.5 154.5M671.5 148.5L668.5 151.5L671.5 154.5M679.5 148.5L676.5 151.5L679.5 154.5M687.5 148.5L684.5 151.5L687.5 154.5M695.5 148.5L692.5 151.5L695.5 154.5M703.5 148.5L700.5 151.5L703.5 154.5M711.5 148.5L708.5 151.5L711.5 154.5M719.5 148.5L716.5 151.5L719.5 154.5M727.5 148.5L724.5 151.5L727.5 154.5M735.5 148.5L732.5 151.5L735.5 154.5M743.5 148.5L740.5 151.5L743.5 154.5M751.5 148.5L748.5 151.5L751.5 154.5M759.5 148.5L756.5 151.5L759.5 154.5M767.5 148.5L764.5 151.5L767.5 154.5M775.5 148.5L772.5 151.5L775.5 154.5M783.5 148.5L780.5 151.5L783.5 154.5M791.5 148.5L788.5 151.5L791.5 154.5M799.5 148.5L796.5 151.5L799.5 154.5M807.5 148.5L804.5 151.5L807.5 154.5M815.5 148.5L812.5 151.5L815.5 154.5M823.5 148.5L820.5 151.5L823.5 154.5M831.5 148.5L828.5 151.5L831.5 154.5M839.5 148.5L836.5 151.5L839.5 154.5M847.5 148.5L844.5 151.5L847.5 154.5M855.5 148.5L852.5 151.5L855.5 154.5M863.5 148.5L860.5 151.5L863.5 154.5M871.5 148.5L868.5 151.5L871.5 154.5M879.5 148.5L876.5 151.5L879.5 154.5M887.5 148.5L884.5 151.5L887.5 154.5M895.5 148.5L892.5 151.5L895.5 154.5M903.5 148.5L900.5 151.5L903.5 154.5M911.5 148.5L908.5 151.5L911.5 154.5M919.5 148.5L916.5 151.5L919.5 154.5M927.5 148.5L924.5 151.5L927.5 154.5M935.5 148.5L932.5 151.5L935.5 154.5M943.5 148.5L940.5 151.5L943.5 154.5" stroke="#0b6fae" stroke-width="1" fill="none"/>
</g>
<g class="transcript">
<text x="111.60" y="171.6" font-size="14.2" fill="#0c0c78" textLength="40.25" lengthAdjust="spacingAndGlyphs">ITGAE</text>
<rect x="157" y="167" width="792" height="1" fill="#0c0c78" shape-rendering="crispEdges"/>
<path d="M159.5 164.5L156.5 167.5L159.5 170.5M167.5 164.5L164.5 167.5L167.5 170.5M175.5 164.5L172.5 167.5L175.5 170.5M183.5 164.5L180.5 167.5L183.5 170.5M191.5 164.5L188.5 167.5L191.5 170.5M199.5 164.5L196.5 167.5L199.5 170.5M207.5 164.5L204.5 167.5L207.5 170.5M215.5 164.5L212.5 167.5L215.5 170.5M223.5 164.5L220.5 167.5L223.5 170.5M231.5 164.5L228.5 167.5L231.5 170.5M239.5 164.5L236.5 167.5L239.5 170.5M247.5 164.5L244.5 167.5L247.5 170.5M255.5 164.5L252.5 167.5L255.5 170.5M263.5 164.5L260.5 167.5L263.5 170.5M271.5 164.5L268.5 167.5L271.5 170.5M279.5 164.5L276.5 167.5L279.5 170.5M287.5 164.5L284.5 167.5L287.5 170.5M295.5 164.5L292.5 167.5L295.5 170.5M303.5 164.5L300.5 167.5L303.5 170.5M311.5 164.5L308.5 167.5L311.5 170.5M319.5 164.5L316.5 167.5L319.5 170.5M327.5 164.5L324.5 167.5L327.5 170.5M335.5 164.5L332.5 167.5L335.5 170.5M343.5 164.5L340.5 167.5L343.5 170.5M351.5 164.5L348.5 167.5L351.5 170.5M359.5 164.5L356.5 167.5L359.5 170.5M367.5 164.5L364.5 167.5L367.5 170.5M375.5 164.5L372.5 167.5L375.5 170.5M383.5 164.5L380.5 167.5L383.5 170.5M391.5 164.5L388.5 167.5L391.5 170.5M399.5 164.5L396.5 167.5L399.5 170.5M407.5 164.5L404.5 167.5L407.5 170.5M415.5 164.5L412.5 167.5L415.5 170.5M423.5 164.5L420.5 167.5L423.5 170.5M431.5 164.5L428.5 167.5L431.5 170.5M439.5 164.5L436.5 167.5L439.5 170.5M447.5 164.5L444.5 167.5L447.5 170.5M455.5 164.5L452.5 167.5L455.5 170.5M463.5 164.5L460.5 167.5L463.5 170.5M471.5 164.5L468.5 167.5L471.5 170.5M479.5 164.5L476.5 167.5L479.5 170.5M487.5 164.5L484.5 167.5L487.5 170.5M495.5 164.5L492.5 167.5L495.5 170.5M503.5 164.5L500.5 167.5L503.5 170.5M511.5 164.5L508.5 167.5L511.5 170.5M519.5 164.5L516.5 167.5L519.5 170.5M527.5 164.5L524.5 167.5L527.5 170.5M535.5 164.5L532.5 167.5L535.5 170.5M543.5 164.5L540.5 167.5L543.5 170.5M551.5 164.5L548.5 167.5L551.5 170.5M559.5 164.5L556.5 167.5L559.5 170.5M567.5 164.5L564.5 167.5L567.5 170.5M575.5 164.5L572.5 167.5L575.5 170.5M583.5 164.5L580.5 167.5L583.5 170.5M591.5 164.5L588.5 167.5L591.5 170.5M599.5 164.5L596.5 167.5L599.5 170.5M607.5 164.5L604.5 167.5L607.5 170.5M615.5 164.5L612.5 167.5L615.5 170.5M623.5 164.5L620.5 167.5L623.5 170.5M631.5 164.5L628.5 167.5L631.5 170.5M639.5 164.5L636.5 167.5L639.5 170.5M647.5 164.5L644.5 167.5L647.5 170.5M655.5 164.5L652.5 167.5L655.5 170.5M663.5 164.5L660.5 167.5L663.5 170.5M671.5 164.5L668.5 167.5L671.5 170.5M679.5 164.5L676.5 167.5L679.5 170.5M687.5 164.5L684.5 167.5L687.5 170.5M695.5 164.5L692.5 167.5L695.5 170.5M703.5 164.5L700.5 167.5L703.5 170.5M711.5 164.5L708.5 167.5L711.5 170.5M719.5 164.5L716.5 167.5L719.5 170.5M727.5 164.5L724.5 167.5L727.5 170.5M735.5 164.5L732.5 167.5L735.5 170.5M743.5 164.5L740.5 167.5L743.5 170.5M751.5 164.5L748.5 167.5L751.5 170.5M759.5 164.5L756.5 167.5L759.5 170.5M767.5 164.5L764.5 167.5L767.5 170.5M775.5 164.5L772.5 167.5L775.5 170.5M783.5 164.5L780.5 167.5L783.5 170.5M791.5 164.5L788.5 167.5L791.5 170.5M799.5 164.5L796.5 167.5L799.5 170.5M807.5 164.5L804.5 167.5L807.5 170.5M815.5 164.5L812.5 167.5L815.5 170.5M823.5 164.5L820.5 167.5L823.5 170.5M831.5 164.5L828.5 167.5L831.5 170.5M839.5 164.5L836.5 167.5L839.5 170.5M847.5 164.5L844.5 167.5L847.5 170.5M855.5 164.5L852.5 167.5L855.5 170.5M863.5 164.5L860.5 167.5L863.5 170.5M871.5 164.5L868.5 167.5L871.5 170.5M879.5 164.5L876.5 167.5L879.5 170.5M887.5 164.5L884.5 167.5L887.5 170.5M895.5 164.5L892.5 167.5L895.5 170.5M903.5 164.5L900.5 167.5L903.5 170.5M911.5 164.5L908.5 167.5L911.5 170.5M919.5 164.5L916.5 167.5L919.5 170.5M927.5 164.5L924.5 167.5L927.5 170.5M935.5 164.5L932.5 167.5L935.5 170.5M943.5 164.5L940.5 167.5L943.5 170.5" stroke="#0c0c78" stroke-width="1" fill="none"/>
</g>
</g>
<g id="track-refseq">
<text x="490.86" y="187.8" font-size="11.6" fill="#000" textLength="123.56" lengthAdjust="spacingAndGlyphs">RefSeq genes from NCBI</text>
<text x="59.55" y="202.6" font-size="14.2" fill="#0c0c78" textLength="92.68" lengthAdjust="spacingAndGlyphs">RefSeq Curated</text>
<rect x="157" y="198" width="792" height="1" fill="#0c0c78" shape-rendering="crispEdges"/>
</g>
<g id="track-pubs">
<text x="444.89" y="218.8" font-size="11.6" fill="#000" textLength="214.72" lengthAdjust="spacingAndGlyphs">Publications: Sequences in Scientific Articles</text>
<text x="86.38" y="233.6" font-size="14.2" fill="#000" textLength="65.40" lengthAdjust="spacingAndGlyphs">Sequences</text>
<text x="117.43" y="249.6" font-size="14.2" fill="#000" textLength="34.20" lengthAdjust="spacingAndGlyphs">SNPs</text>
<rect x="157" y="229" width="792" height="1" fill="#000" shape-rendering="crispEdges"/>
</g>
<g id="track-omim">
<text x="367.83" y="266.8" font-size="14.2" fill="#0a640a" textLength="369.21" lengthAdjust="spacingAndGlyphs">OMIM Gene Phenotypes - Dark Green Can Be Disease-causing</text>
<text x="73.81" y="280.6" font-size="14.2" fill="#0a640a" textLength="77.84" lengthAdjust="spacingAndGlyphs">OMIM Genes</text>
<rect x="156" y="269" width="793" height="15" fill="#bebebe" shape-rendering="crispEdges"/>
</g>
<g id="track-dbsnp">
<text x="435.63" y="296.8" font-size="11.6" fill="#000" textLength="232.34" lengthAdjust="spacingAndGlyphs">Short Genetic Variants from dbSNP release 155</text>
<text x="25.94" y="311.6" font-size="14.2" fill="#000" textLength="126.18" lengthAdjust="spacingAndGlyphs">Common dbSNP(155)</text>
</g>
<g id="track-gtex">
<g id="gtex-barchart" shape-rendering="crispEdges">
<rect x="156" y="332" width="378" height="33" fill="#f3f3f3"/>
<rect x="156" y="333" width="377" height="31" fill="#fff"/>
<rect x="156" y="335" width="5" height="29" fill="#FFA54F"/>
<rect x="163" y="336" width="5" height="28" fill="#EE9A00"/>
<rect x="170" y="337" width="5" height="27" fill="#8FBC8F"/>
<rect x="177" y="338" width="5" height="26" fill="#8B1C62"/>
<rect x="184" y="337" width="5" height="27" fill="#EE6A50"/>
<rect x="191" y="339" width="5" height="25" fill="#FF0000"/>
<rect x="198" y="335" width="5" height="29" fill="#CDB79E"/>
<rect x="205" y="342" width="5" height="22" fill="#EEEE00"/>
<rect x="212" y="342" width="5" height="22" fill="#EEEE00"/>
<rect x="219" y="336" width="5" height="28" fill="#EEEE00"/>
<rect x="226" y="337" width="5" height="27" fill="#EEEE00"/>
<rect x="233" y="338" width="5" height="26" fill="#EEEE00"/>
<rect x="240" y="342" width="5" height="22" fill="#EEEE00"/>
<rect x="247" y="340" width="5" height="24" fill="#EEEE00"/>
<rect x="254" y="343" width="5" height="21" fill="#EEEE00"/>
<rect x="261" y="340" width="5" height="24" fill="#EEEE00"/>
<rect x="268" y="337" width="5" height="27" fill="#EEEE00"/>
<rect x="275" y="337" width="5" height="27" fill="#EEEE00"/>
<rect x="282" y="338" width="5" height="26" fill="#EEEE00"/>
<rect x="289" y="339" width="5" height="25" fill="#EEEE00"/>
<rect x="296" y="336" width="5" height="28" fill="#00CDCD"/>
<rect x="303" y="338" width="5" height="26" fill="#EE82EE"/>
<rect x="310" y="333" width="5" height="31" fill="#9AC0CD"/>
<rect x="317" y="336" width="5" height="28" fill="#EED5D2"/>
<rect x="324" y="335" width="5" height="29" fill="#EED5D2"/>
<rect x="331" y="336" width="5" height="28" fill="#CDB79E"/>
<rect x="338" y="338" width="5" height="26" fill="#EEC591"/>
<rect x="345" y="337" width="5" height="27" fill="#8B7355"/>
<rect x="352" y="337" width="5" height="27" fill="#8B7355"/>
<rect x="359" y="336" width="5" height="28" fill="#CDAA7D"/>
<rect x="366" y="336" width="5" height="28" fill="#EED5D2"/>
<rect x="373" y="343" width="5" height="21" fill="#B452CD"/>
<rect x="380" y="349" width="5" height="15" fill="#7A378B"/>
<rect x="387" y="343" width="5" height="21" fill="#CDB79E"/>
<rect x="394" y="341" width="5" height="23" fill="#CDB79E"/>
<rect x="401" y="351" width="5" height="13" fill="#CDB79E"/>
<rect x="408" y="333" width="5" height="31" fill="#9ACD32"/>
<rect x="415" y="340" width="5" height="24" fill="#CDB79E"/>
<rect x="422" y="341" width="5" height="23" fill="#7A67EE"/>
<rect x="429" y="335" width="5" height="29" fill="#FFD700"/>
<rect x="436" y="336" width="5" height="28" fill="#FFB6C1"/>
<rect x="443" y="351" width="5" height="13" fill="#CD9B1D"/>
<rect x="450" y="340" width="5" height="24" fill="#B4EEB4"/>
<rect x="457" y="335" width="5" height="29" fill="#D9D9D9"/>
<rect x="464" y="340" width="5" height="24" fill="#3A5FCD"/>
<rect x="471" y="341" width="5" height="23" fill="#1E90FF"/>
<rect x="478" y="332" width="5" height="32" fill="#CDB79E"/>
<rect x="485" y="332" width="5" height="32" fill="#CDB79E"/>
<rect x="492" y="340" width="5" height="24" fill="#FFD39B"/>
<rect x="499" y="333" width="5" height="31" fill="#A6A6A6"/>
<rect x="506" y="337" width="5" height="27" fill="#008B45"/>
<rect x="513" y="335" width="5" height="29" fill="#EED5D2"/>
<rect x="520" y="334" width="5" height="30" fill="#EED5D2"/>
<rect x="527" y="348" width="5" height="16" fill="#FF00FF"/>
<rect x="156" y="365" width="793" height="2" fill="#00007f"/>
</g>
<text x="265.84" y="328.8" font-size="14.2" fill="#000" textLength="572.31" lengthAdjust="spacingAndGlyphs">Gene Expression in 54 tissues from GTEx RNA-seq of 17382 samples, 948 donors (V8, Aug 2019)</text>
<text x="111.60" y="354.6" font-size="14.2" fill="#000" textLength="40.25" lengthAdjust="spacingAndGlyphs">ITGAE</text>
</g>
<g id="track-h3k27ac">
<text x="280.54" y="381.8" font-size="14.2" fill="#000" textLength="541.97" lengthAdjust="spacingAndGlyphs">H3K27Ac Mark (Often Found Near Active Regulatory Elements) on 7 cell lines from ENCODE</text>
<text x="12.58" y="396" font-size="14.2" fill="#000" textLength="105.11" lengthAdjust="spacingAndGlyphs">Layered H3K27Ac</text>
<rect x="157" y="413" width="792" height="1" fill="#ff8060" shape-rendering="crispEdges"/>
</g>
<g id="track-phylop">
<text x="405.08" y="427.8" font-size="14.2" fill="#3c3c8c" textLength="293.27" lengthAdjust="spacingAndGlyphs">100 vertebrates Basewise Conservation by PhyloP</text>
<text x="115.86" y="427" font-size="14.2" fill="#3c3c8c" textLength="36.60" lengthAdjust="spacingAndGlyphs">4.88 _</text>
<text x="12.85" y="452" font-size="14.2" fill="#3c3c8c" textLength="86.59" lengthAdjust="spacingAndGlyphs">100 Vert. Cons</text>
<text x="118.94" y="477" font-size="14.2" fill="#8c3c3c" textLength="33.16" lengthAdjust="spacingAndGlyphs">-4.5 _</text>
<g id="phylop-logo" font-size="13" text-rendering="geometricPrecision">
<rect x="158" y="455" width="37" height="1" fill="#e2fce2" shape-rendering="crispEdges"/>
<text transform="translate(157.20,456) scale(5.07,0.112)" fill="#00dc00">T</text>
<rect x="211" y="455" width="37" height="1" fill="#e2fce2" shape-rendering="crispEdges"/>
<text transform="translate(210.13,456) scale(5.07,0.112)" fill="#00dc00">T</text>
<rect x="264" y="455" width="37" height="1" fill="#e2fce2" shape-rendering="crispEdges"/>
<text transform="translate(263.06,456) scale(5.07,0.112)" fill="#00dc00">T</text>
<text transform="translate(316.49,456) scale(4.8,0.105)" fill="#8a7a00">C</text>
<rect x="370" y="455" width="37" height="1" fill="#e2fce2" shape-rendering="crispEdges"/>
<text transform="translate(368.92,456) scale(5.07,0.112)" fill="#00dc00">T</text>
<rect x="423" y="455" width="37" height="1" fill="#e2fce2" shape-rendering="crispEdges"/>
<text transform="translate(421.85,456) scale(5.07,0.112)" fill="#00dc00">T</text>
<rect x="476" y="455" width="37" height="1" fill="#e2fce2" shape-rendering="crispEdges"/>
<text transform="translate(474.78,456) scale(5.07,0.112)" fill="#00dc00">T</text>
<text transform="translate(528.21,456) scale(4.8,0.105)" fill="#8a7a00">C</text>
<rect x="581" y="455" width="37" height="1" fill="#e2fce2" shape-rendering="crispEdges"/>
<text transform="translate(580.64,456) scale(5.07,0.112)" fill="#00dc00">T</text>
<text transform="translate(632.87,459) scale(5.1,0.32)" fill="#a09010">C</text>
<text transform="translate(633.57,461) scale(5.07,0.224)" fill="#00dc00">T</text>
<rect x="687" y="455" width="37" height="1" fill="#e2fce2" shape-rendering="crispEdges"/>
<text transform="translate(686.50,456) scale(5.07,0.112)" fill="#00dc00">T</text>
<rect x="740" y="455" width="37" height="1" fill="#e2fce2" shape-rendering="crispEdges"/>
<text transform="translate(739.43,456) scale(5.07,0.112)" fill="#00dc00">T</text>
<text transform="translate(791.66,459) scale(5.1,0.32)" fill="#a09010">C</text>
<text transform="translate(792.36,461) scale(5.07,0.224)" fill="#00dc00">T</text>
<rect x="846" y="455" width="37" height="1" fill="#e2fce2" shape-rendering="crispEdges"/>
<text transform="translate(845.29,456) scale(5.07,0.112)" fill="#00dc00">T</text>
<rect x="899" y="455" width="37" height="1" fill="#e2fce2" shape-rendering="crispEdges"/>
<text transform="translate(898.22,456) scale(5.07,0.112)" fill="#00dc00">T</text>
</g>
</g>
<g id="track-multiz">
<text x="444.39" y="493.8" font-size="14.2" fill="#0c0c78" textLength="215.61" lengthAdjust="spacingAndGlyphs">Multiz Alignments of 100 Vertebrates</text>
<text x="121.11" y="507.6" font-size="14.2" fill="#e08000" textLength="30.35" lengthAdjust="spacingAndGlyphs">Gaps</text>
<text x="110.55" y="522.6" font-size="14.2" fill="#0c0c78" textLength="41.63" lengthAdjust="spacingAndGlyphs">Human</text>
<text x="107.54" y="537.6" font-size="14.2" fill="#0c0c78" textLength="44.08" lengthAdjust="spacingAndGlyphs">Rhesus</text>
<text x="112.80" y="552.6" font-size="14.2" fill="#0a640a" textLength="39.36" lengthAdjust="spacingAndGlyphs">Mouse</text>
<text x="128.51" y="567.6" font-size="14.2" fill="#0c0c78" textLength="23.77" lengthAdjust="spacingAndGlyphs">Dog</text>
<text x="100.59" y="582.6" font-size="14.2" fill="#0a640a" textLength="50.86" lengthAdjust="spacingAndGlyphs">Elephant</text>
<text x="105.03" y="597.6" font-size="14.2" fill="#0a640a" textLength="47.20" lengthAdjust="spacingAndGlyphs">Chicken</text>
<text x="83.79" y="612.6" font-size="14.2" fill="#0c0c78" textLength="67.63" lengthAdjust="spacingAndGlyphs">X_tropicalis</text>
<text x="98.07" y="627.6" font-size="14.2" fill="#0a640a" textLength="54.02" lengthAdjust="spacingAndGlyphs">Zebrafish</text>
<text transform="translate(180.0,523) scale(0.96,1)" font-size="14.2" fill="#0c0c78" stroke="#0c0c78" stroke-width="0.18" text-anchor="middle">T</text>
<text transform="translate(180.0,538) scale(0.96,1)" font-size="14.2" fill="#0c0c78" stroke="#0c0c78" stroke-width="0.18" text-anchor="middle">T</text>
<text transform="translate(180.0,554.7) scale(0.96,1)" font-size="14.2" fill="#8080b0" text-anchor="middle">=</text>
<text transform="translate(180.0,569.7) scale(0.96,1)" font-size="14.2" fill="#8080b0" text-anchor="middle">=</text>
<text transform="translate(180.0,584.7) scale(0.96,1)" font-size="14.2" fill="#8080b0" text-anchor="middle">=</text>
<text transform="translate(232.93,523) scale(0.96,1)" font-size="14.2" fill="#0c0c78" stroke="#0c0c78" stroke-width="0.18" text-anchor="middle">T</text>
<text transform="translate(232.93,538) scale(0.96,1)" font-size="14.2" fill="#0c0c78" stroke="#0c0c78" stroke-width="0.18" text-anchor="middle">T</text>
<text transform="translate(232.93,554.7) scale(0.96,1)" font-size="14.2" fill="#8080b0" text-anchor="middle">=</text>
<text transform="translate(232.93,569.7) scale(0.96,1)" font-size="14.2" fill="#8080b0" text-anchor="middle">=</text>
<text transform="translate(232.93,584.7) scale(0.96,1)" font-size="14.2" fill="#8080b0" text-anchor="middle">=</text>
<text transform="translate(285.86,523) scale(0.96,1)" font-size="14.2" fill="#0c0c78" stroke="#0c0c78" stroke-width="0.18" text-anchor="middle">T</text>
<text transform="translate(285.86,539) scale(0.96,1)" font-size="14.2" fill="#8080b0" text-anchor="middle">-</text>
<text transform="translate(285.86,554.7) scale(0.96,1)" font-size="14.2" fill="#8080b0" text-anchor="middle">=</text>
<text transform="translate(285.86,569.7) scale(0.96,1)" font-size="14.2" fill="#8080b0" text-anchor="middle">=</text>
<text transform="translate(285.86,584.7) scale(0.96,1)" font-size="14.2" fill="#8080b0" text-anchor="middle">=</text>
<text transform="translate(338.79,523) scale(0.96,1)" font-size="14.2" fill="#0c0c78" stroke="#0c0c78" stroke-width="0.18" text-anchor="middle">C</text>
<text transform="translate(338.79,539) scale(0.96,1)" font-size="14.2" fill="#8080b0" text-anchor="middle">-</text>
<text transform="translate(338.79,554.7) scale(0.96,1)" font-size="14.2" fill="#8080b0" text-anchor="middle">=</text>
<text transform="translate(338.79,569.7) scale(0.96,1)" font-size="14.2" fill="#8080b0" text-anchor="middle">=</text>
<text transform="translate(338.79,584.7) scale(0.96,1)" font-size="14.2" fill="#8080b0" text-anchor="middle">=</text>
<text transform="translate(391.72,523) scale(0.96,1)" font-size="14.2" fill="#0c0c78" stroke="#0c0c78" stroke-width="0.18" text-anchor="middle">T</text>
<text transform="translate(391.72,539) scale(0.96,1)" font-size="14.2" fill="#8080b0" text-anchor="middle">-</text>
<text transform="translate(391.72,554.7) scale(0.96,1)" font-size="14.2" fill="#8080b0" text-anchor="middle">=</text>
<text transform="translate(391.72,569.7) scale(0.96,1)" font-size="14.2" fill="#8080b0" text-anchor="middle">=</text>
<text transform="translate(391.72,584.7) scale(0.96,1)" font-size="14.2" fill="#8080b0" text-anchor="middle">=</text>
<text transform="translate(444.65,523) scale(0.96,1)" font-size="14.2" fill="#0c0c78" stroke="#0c0c78" stroke-width="0.18" text-anchor="middle">T</text>
<text transform="translate(444.65,539) scale(0.96,1)" font-size="14.2" fill="#8080b0" text-anchor="middle">-</text>
<text transform="translate(444.65,554.7) scale(0.96,1)" font-size="14.2" fill="#8080b0" text-anchor="middle">=</text>
<text transform="translate(444.65,569.7) scale(0.96,1)" font-size="14.2" fill="#8080b0" text-anchor="middle">=</text>
<text transform="translate(444.65,584.7) scale(0.96,1)" font-size="14.2" fill="#8080b0" text-anchor="middle">=</text>
<text transform="translate(497.58,523) scale(0.96,1)" font-size="14.2" fill="#0c0c78" stroke="#0c0c78" stroke-width="0.18" text-anchor="middle">T</text>
<text transform="translate(497.58,539) scale(0.96,1)" font-size="14.2" fill="#8080b0" text-anchor="middle">-</text>
<text transform="translate(497.58,554.7) scale(0.96,1)" font-size="14.2" fill="#8080b0" text-anchor="middle">=</text>
<text transform="translate(497.58,569.7) scale(0.96,1)" font-size="14.2" fill="#8080b0" text-anchor="middle">=</text>
<text transform="translate(497.58,584.7) scale(0.96,1)" font-size="14.2" fill="#8080b0" text-anchor="middle">=</text>
<text transform="translate(550.51,523) scale(0.96,1)" font-size="14.2" fill="#0c0c78" stroke="#0c0c78" stroke-width="0.18" text-anchor="middle">C</text>
<text transform="translate(550.51,539) scale(0.96,1)" font-size="14.2" fill="#8080b0" text-anchor="middle">-</text>
<text transform="translate(550.51,554.7) scale(0.96,1)" font-size="14.2" fill="#8080b0" text-anchor="middle">=</text>
<text transform="translate(550.51,569.7) scale(0.96,1)" font-size="14.2" fill="#8080b0" text-anchor="middle">=</text>
<text transform="translate(550.51,584.7) scale(0.96,1)" font-size="14.2" fill="#8080b0" text-anchor="middle">=</text>
<text transform="translate(603.44,523) scale(0.96,1)" font-size="14.2" fill="#0c0c78" stroke="#0c0c78" stroke-width="0.18" text-anchor="middle">T</text>
<text transform="translate(603.44,539) scale(0.96,1)" font-size="14.2" fill="#8080b0" text-anchor="middle">-</text>
<text transform="translate(603.44,554.7) scale(0.96,1)" font-size="14.2" fill="#8080b0" text-anchor="middle">=</text>
<text transform="translate(603.44,569.7) scale(0.96,1)" font-size="14.2" fill="#8080b0" text-anchor="middle">=</text>
<text transform="translate(603.44,584.7) scale(0.96,1)" font-size="14.2" fill="#8080b0" text-anchor="middle">=</text>
<text transform="translate(656.37,523) scale(0.96,1)" font-size="14.2" fill="#0c0c78" stroke="#0c0c78" stroke-width="0.18" text-anchor="middle">T</text>
<text transform="translate(656.37,538) scale(0.96,1)" font-size="14.2" fill="#8080b0" text-anchor="middle">C</text>
<text transform="translate(656.37,554.7) scale(0.96,1)" font-size="14.2" fill="#8080b0" text-anchor="middle">=</text>
<text transform="translate(656.37,569.7) scale(0.96,1)" font-size="14.2" fill="#8080b0" text-anchor="middle">=</text>
<text transform="translate(656.37,584.7) scale(0.96,1)" font-size="14.2" fill="#8080b0" text-anchor="middle">=</text>
<text transform="translate(709.3,523) scale(0.96,1)" font-size="14.2" fill="#0c0c78" stroke="#0c0c78" stroke-width="0.18" text-anchor="middle">T</text>
<text transform="translate(709.3,538) scale(0.96,1)" font-size="14.2" fill="#0c0c78" stroke="#0c0c78" stroke-width="0.18" text-anchor="middle">T</text>
<text transform="translate(709.3,554.7) scale(0.96,1)" font-size="14.2" fill="#8080b0" text-anchor="middle">=</text>
<text transform="translate(709.3,569.7) scale(0.96,1)" font-size="14.2" fill="#8080b0" text-anchor="middle">=</text>
<text transform="translate(709.3,584.7) scale(0.96,1)" font-size="14.2" fill="#8080b0" text-anchor="middle">=</text>
<text transform="translate(762.23,523) scale(0.96,1)" font-size="14.2" fill="#0c0c78" stroke="#0c0c78" stroke-width="0.18" text-anchor="middle">T</text>
<text transform="translate(762.23,538) scale(0.96,1)" font-size="14.2" fill="#0c0c78" stroke="#0c0c78" stroke-width="0.18" text-anchor="middle">T</text>
<text transform="translate(762.23,554.7) scale(0.96,1)" font-size="14.2" fill="#8080b0" text-anchor="middle">=</text>
<text transform="translate(762.23,569.7) scale(0.96,1)" font-size="14.2" fill="#8080b0" text-anchor="middle">=</text>
<text transform="translate(762.23,584.7) scale(0.96,1)" font-size="14.2" fill="#8080b0" text-anchor="middle">=</text>
<text transform="translate(815.16,523) scale(0.96,1)" font-size="14.2" fill="#0c0c78" stroke="#0c0c78" stroke-width="0.18" text-anchor="middle">T</text>
<text transform="translate(815.16,538) scale(0.96,1)" font-size="14.2" fill="#8080b0" text-anchor="middle">C</text>
<text transform="translate(815.16,554.7) scale(0.96,1)" font-size="14.2" fill="#8080b0" text-anchor="middle">=</text>
<text transform="translate(815.16,569.7) scale(0.96,1)" font-size="14.2" fill="#8080b0" text-anchor="middle">=</text>
<text transform="translate(815.16,584.7) scale(0.96,1)" font-size="14.2" fill="#8080b0" text-anchor="middle">=</text>
<text transform="translate(868.09,523) scale(0.96,1)" font-size="14.2" fill="#0c0c78" stroke="#0c0c78" stroke-width="0.18" text-anchor="middle">T</text>
<text transform="translate(868.09,538) scale(0.96,1)" font-size="14.2" fill="#0c0c78" stroke="#0c0c78" stroke-width="0.18" text-anchor="middle">T</text>
<text transform="translate(868.09,554.7) scale(0.96,1)" font-size="14.2" fill="#8080b0" text-anchor="middle">=</text>
<text transform="translate(868.09,569.7) scale(0.96,1)" font-size="14.2" fill="#8080b0" text-anchor="middle">=</text>
<text transform="translate(868.09,584.7) scale(0.96,1)" font-size="14.2" fill="#8080b0" text-anchor="middle">=</text>
<text transform="translate(921.02,523) scale(0.96,1)" font-size="14.2" fill="#0c0c78" stroke="#0c0c78" stroke-width="0.18" text-anchor="middle">T</text>
<text transform="translate(921.02,538) scale(0.96,1)" font-size="14.2" fill="#0c0c78" stroke="#0c0c78" stroke-width="0.18" text-anchor="middle">T</text>
<text transform="translate(921.02,554.7) scale(0.96,1)" font-size="14.2" fill="#8080b0" text-anchor="middle">=</text>
<text transform="translate(921.02,569.7) scale(0.96,1)" font-size="14.2" fill="#8080b0" text-anchor="middle">=</text>
<text transform="translate(921.02,584.7) scale(0.96,1)" font-size="14.2" fill="#8080b0" text-anchor="middle">=</text>
</g>
<g id="track-rmsk">
<text x="440.21" y="643.8" font-size="14.2" fill="#000" textLength="223.74" lengthAdjust="spacingAndGlyphs">Repeating Elements by RepeatMasker</text>
<text x="67.53" y="658" font-size="14.2" fill="#000" textLength="84.23" lengthAdjust="spacingAndGlyphs">RepeatMasker</text>
<rect x="209" y="646" width="740" height="15" fill="#000" shape-rendering="crispEdges"/>
</g>
</svg>
</body></html>
